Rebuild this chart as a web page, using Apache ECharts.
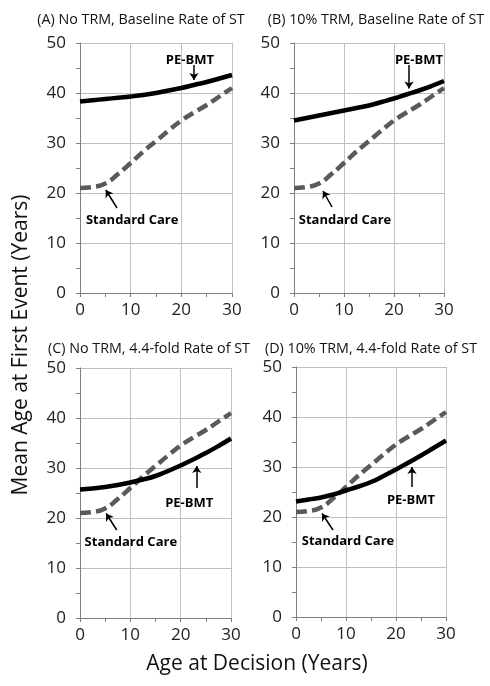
<!DOCTYPE html>
<html><head><meta charset="utf-8">
<script src="https://cdn.jsdelivr.net/npm/echarts@6/dist/echarts.min.js"></script>
<style>html,body{margin:0;padding:0;background:#fff}#c{width:490px;height:686px}</style>
</head><body><div id="c"></div>
<script>
// ---- data ----
const ageAtDecision = [0, 2.5, 5, 7.5, 10, 12.5, 15, 17.5, 20, 22.5, 25, 27.5, 30];
const standardCare  = [21.0, 21.2, 21.9, 23.8, 26.0, 28.3, 30.4, 32.5, 34.5, 36.1, 37.6, 39.3, 41.0];
const peBmtA = [38.3, 38.55, 38.8, 39.05, 39.3, 39.6, 40.0, 40.5, 41.0, 41.6, 42.2, 42.9, 43.6];
const peBmtB = [34.5, 35.0, 35.5, 36.0, 36.5, 37.0, 37.5, 38.2, 38.9, 39.7, 40.5, 41.4, 42.4];
const peBmtC = [25.7, 25.9, 26.2, 26.6, 27.1, 27.7, 28.4, 29.4, 30.5, 31.7, 33.0, 34.4, 35.9];
const peBmtD = [23.1, 23.5, 23.9, 24.5, 25.3, 26.1, 27.0, 28.2, 29.5, 30.9, 32.3, 33.8, 35.3];
const panelTitles = [
  '(A) No TRM, Baseline Rate of ST',
  '(B) 10% TRM, Baseline Rate of ST',
  '(C) No TRM, 4.4-fold Rate of ST',
  '(D) 10% TRM, 4.4-fold Rate of ST'
];
const seriesNames = ['PE-BMT', 'Standard Care'];
const yAxisTitle = 'Mean Age at First Event (Years)';
const xAxisTitle = 'Age at Decision (Years)';

// annotation anchors in data units: [textX, textY, arrowFromX, arrowFromY, arrowToX, arrowToY]
const peAnno = [
  [21.7, 46.6, 22.5, 45.6, 22.5, 42.6],
  [25.0, 46.6, 23.0, 45.6, 23.0, 40.9],
  [21.7, 23.0, 23.2, 26.0, 23.2, 30.4],
  [23.0, 23.4, 23.2, 26.0, 23.2, 30.0]
];
const scAnno = [
  [10.3, 14.6, 7.3, 17.0, 5.1, 20.6],
  [10.2, 14.6, 7.6, 17.2, 5.8, 20.4],
  [10.1, 15.2, 7.3, 17.6, 5.2, 20.9],
  [10.4, 15.2, 7.4, 17.4, 5.2, 20.7]
];

const peSets = [peBmtA, peBmtB, peBmtC, peBmtD];
const pair = (ys) => ageAtDecision.map((x, i) => [x, ys[i]]);

const FONT = '"Open Sans", sans-serif';
const grids = [
  {left: 80, top: 43, width: 152, height: 250},
  {left: 294, top: 43, width: 150, height: 250},
  {left: 80, top: 368, width: 151, height: 250},
  {left: 296, top: 367, width: 150, height: 250}
];
const titlePos = [[136, 8], [371, 8], [144, 337], [366, 337]];

function annoSeries(gi, a, name) {
  return {
    markPoint: {
      silent: true, animation: false,
      symbol: 'rect', symbolSize: [1, 1], itemStyle: {color: 'rgba(0,0,0,0)'},
      label: {show: true, position: 'inside', color: '#000', fontWeight: 'bold', fontSize: 13, fontFamily: FONT, formatter: name},
      data: [{coord: [a[0], a[1]]}]
    },
    markLine: {
      silent: true, animation: false,
      symbol: ['none', 'arrow'], symbolSize: 7,
      label: {show: false},
      lineStyle: {color: '#000', width: 1.5, type: 'solid'},
      data: [[{coord: [a[2], a[3]]}, {coord: [a[4], a[5]]}]]
    }
  };
}

const xAxes = [], yAxes = [], series = [];
grids.forEach((g, i) => {
  xAxes.push({
    type: 'value', gridIndex: i, min: 0, max: 30, interval: 10,
    axisLine: {show: true, lineStyle: {color: '#7f7f7f', width: 1}},
    axisTick: {show: true, length: 4, lineStyle: {color: '#7f7f7f'}},
    minorTick: {show: true, splitNumber: 2, length: 4, lineStyle: {color: '#7f7f7f'}},
    splitLine: {show: true, lineStyle: {color: '#c0c0c0', width: 1}},
    axisLabel: {fontSize: 17, color: '#222', fontFamily: FONT, margin: 9}
  });
  yAxes.push({
    type: 'value', gridIndex: i, min: 0, max: 50, interval: 10,
    axisLine: {show: true, lineStyle: {color: '#7f7f7f', width: 1}},
    axisTick: {show: true, length: 4, lineStyle: {color: '#7f7f7f'}},
    minorTick: {show: true, splitNumber: 2, length: 4, lineStyle: {color: '#7f7f7f'}},
    splitLine: {show: true, lineStyle: {color: '#c0c0c0', width: 1}},
    axisLabel: {fontSize: 17, color: '#222', fontFamily: FONT, margin: 14}
  });
  series.push(Object.assign({
    name: seriesNames[1], type: 'line', xAxisIndex: i, yAxisIndex: i,
    data: pair(standardCare), smooth: 0.5, showSymbol: false,
    lineStyle: {color: '#5a5a5a', width: 4.5, type: [11, 5], cap: 'butt'},
    animation: false, z: 3
  }, annoSeries(i, scAnno[i], seriesNames[1])));
  series.push(Object.assign({
    name: seriesNames[0], type: 'line', xAxisIndex: i, yAxisIndex: i,
    data: pair(peSets[i]), smooth: 0.5, showSymbol: false,
    lineStyle: {color: '#000', width: 4.5},
    animation: false, z: 4
  }, annoSeries(i, peAnno[i], seriesNames[0])));
});

const chart = echarts.init(document.getElementById('c'), null, {renderer: 'canvas'});
chart.setOption({
  backgroundColor: '#fff',
  animation: false,
  title: panelTitles.map((t, i) => ({
    text: t, left: titlePos[i][0], top: titlePos[i][1], textAlign: 'center',
    textStyle: {fontSize: 14.3, fontWeight: 'normal', color: '#111', fontFamily: FONT}
  })),
  grid: grids,
  xAxis: xAxes,
  yAxis: yAxes,
  series: series,
  graphic: [
    {type: 'text', x: 21, y: 345, rotation: Math.PI / 2,
     style: {text: yAxisTitle, fontSize: 21, fontFamily: FONT, fill: '#111', align: 'center', verticalAlign: 'middle'}},
    {type: 'text', x: 257, y: 664,
     style: {text: xAxisTitle, fontSize: 21, fontFamily: FONT, fill: '#111', align: 'center', verticalAlign: 'middle'}}
  ]
});
</script></body></html>
